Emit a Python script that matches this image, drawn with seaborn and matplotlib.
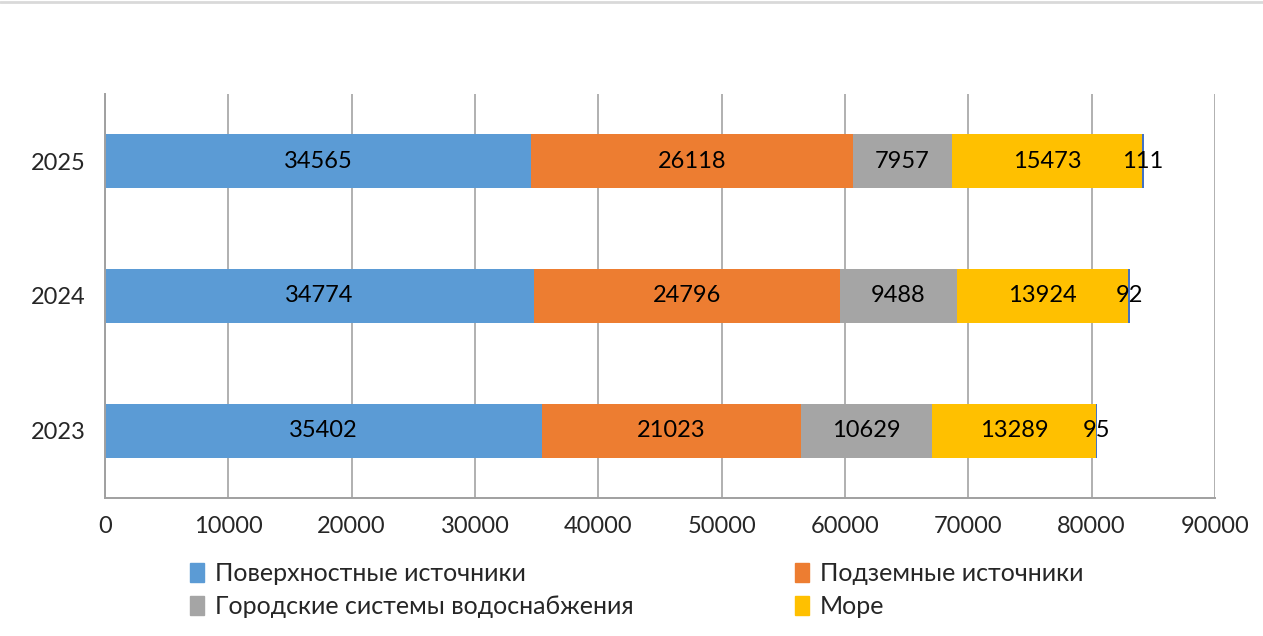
import numpy as np
import pandas as pd
import matplotlib.pyplot as plt
import seaborn as sns

# Data
years = ['2025', '2024', '2023']
surface = [34565, 34774, 35402]
underground = [26118, 24796, 21023]
city = [7957, 9488, 10629]
sea = [15473, 13924, 13289]
other = [111, 92, 95]

series_names = ['Поверхностные источники', 'Подземные источники',
                'Городские системы водоснабжения', 'Море', 'Прочее']
colors = ['#5B9BD5', '#ED7D31', '#A5A5A5', '#FFC000', '#4472C4']

df = pd.DataFrame({'year': years, series_names[0]: surface, series_names[1]: underground,
                   series_names[2]: city, series_names[3]: sea, series_names[4]: other})

sns.set_style('white')
plt.rcParams['font.family'] = ['Lato', 'DejaVu Sans']

fig = plt.figure(figsize=(12.63, 6.36), dpi=100)
ax = fig.add_axes([105 / 1263, 1 - 498 / 636, 1110 / 1263, 404 / 636])

# stacked bars: draw cumulative totals, largest first
cum = df[series_names].cumsum(axis=1)
for name, col in reversed(list(zip(series_names, colors))):
    sns.barplot(x=cum[name], y=df['year'], order=years, orient='h', color=col,
                width=0.4, saturation=1, linewidth=0, ax=ax)

# value labels centred in each segment
for name in series_names:
    for i, y in enumerate(years):
        v = df.loc[i, name]
        ax.text(cum.loc[i, name] - v / 2, y, f'{v}', ha='center', va='center',
                fontsize=17, color='black')

ax.set_xlim(0, 90000)
ax.set_ylim(2.5, -0.5)
ax.set_xticks(np.arange(0, 90001, 10000))
ax.set_xlabel('')
ax.set_ylabel('')
ax.tick_params(axis='x', labelsize=17, length=7, width=1.3, color='#A0A0A0', direction='out', pad=6)
ax.tick_params(axis='y', labelsize=17, length=0, pad=14)
ax.xaxis.grid(True, color='#B0B0B0', linewidth=1.4)
ax.set_axisbelow(True)
for s in ['top', 'right']:
    ax.spines[s].set_visible(False)
for s in ['left', 'bottom']:
    ax.spines[s].set_color('#A0A0A0')
    ax.spines[s].set_linewidth(1.4)
# tick marks between categories on the y axis
ax.set_yticks([-0.5, 0.5, 1.5, 2.5], minor=True)
ax.tick_params(axis='y', which='minor', length=11, width=1.3, color='#A0A0A0')

# thin line at the very top of the image
fig.add_artist(plt.Line2D([0, 1], [1 - 1.5 / 636] * 2, color='#D9D9D9', linewidth=2))

# legend filled row by row (two columns)
order = [0, 2, 1, 3]
handles = [plt.Rectangle((0, 0), 1, 1, color=colors[k]) for k in order]
labels = [series_names[k] for k in order]
fig.legend(handles, labels, ncol=2, loc='upper left',
           bbox_to_anchor=(180 / 1263, 1 - 552 / 636), frameon=False, fontsize=18,
           handlelength=0.55, handleheight=0.8, handletextpad=0.45,
           columnspacing=6.45, labelspacing=0.42, borderaxespad=0)

fig.savefig('out.png', dpi=100)
